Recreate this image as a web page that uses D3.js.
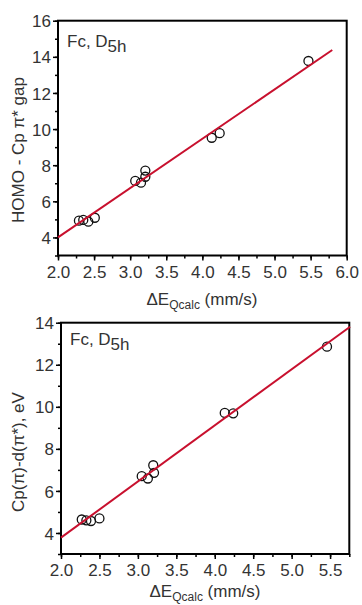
<!DOCTYPE html>
<html lang="en">
  <head>
    <meta charset="UTF-8" />
    <title>Fc D5h correlations</title>
    <style>
      body {
        margin: 0;
        background-color: #fff;
      }
      svg {
        display: block;
        font-family: "Liberation Sans", Arial, sans-serif;
      }
      .tick text {
        fill: #333;
        font-size: 17px;
      }
      .lbl {
        fill: #333;
        font-size: 17px;
      }
    </style>
  </head>
  <body>
    <div class="container"></div>
    <script src="https://d3js.org/d3.v7.min.js"></script>
    <script>
      // top panel: HOMO - Cp pi* gap vs dEQ
      const topX = [2.29, 2.35, 2.42, 2.51, 3.07, 3.15, 3.21, 3.21, 4.13, 4.24, 5.47];
      const topY = [4.93, 4.97, 4.87, 5.09, 7.13, 7.03, 7.36, 7.70, 9.52, 9.77, 13.77];
      const topFit = [[2.0, 4.0], [5.8, 14.38]];
      const topXTicks = [2.0, 2.5, 3.0, 3.5, 4.0, 4.5, 5.0, 5.5, 6.0];
      const topYTicks = [4, 6, 8, 10, 12, 14, 16];

      // bottom panel: Cp(pi)-d(pi*) vs dEQ
      const botX = [2.27, 2.33, 2.39, 2.50, 3.05, 3.13, 3.20, 3.21, 4.13, 4.24, 5.46];
      const botY = [4.64, 4.60, 4.57, 4.69, 6.70, 6.59, 7.22, 6.86, 9.71, 9.69, 12.86];
      const botFit = [[2.0, 3.78], [5.76, 13.81]];
      const botXTicks = [2.0, 2.5, 3.0, 3.5, 4.0, 4.5, 5.0, 5.5];
      const botYTicks = [4, 6, 8, 10, 12, 14];

      const w = 362, h = 605;
      const svg = d3.select(".container").append("svg")
        .attr("width", w)
        .attr("height", h);

      function panel(p) {
        const x = d3.scaleLinear().domain(p.xDom).range([p.left, p.right]);
        const y = d3.scaleLinear().domain(p.yDom).range([p.bottom, p.top]);
        const g = svg.append("g");

        // minor ticks
        const xMinor = d3.range(p.xDom[0], p.xDom[1] + 0.001, 0.25);
        const yMinor = d3.range(p.yDom[0], p.yDom[1] + 0.001, 1);
        g.append("g")
          .attr("transform", "translate(0," + p.bottom + ")")
          .call(d3.axisBottom(x).tickValues(xMinor).tickSize(3).tickFormat(""))
          .call(a => a.select(".domain").remove())
          .selectAll("line").attr("stroke", "#000").attr("stroke-width", 1.5);
        g.append("g")
          .attr("transform", "translate(" + p.left + ",0)")
          .call(d3.axisLeft(y).tickValues(yMinor).tickSize(3).tickFormat(""))
          .call(a => a.select(".domain").remove())
          .selectAll("line").attr("stroke", "#000").attr("stroke-width", 1.5);

        // major ticks
        const xa = g.append("g")
          .attr("transform", "translate(0," + p.bottom + ")")
          .call(d3.axisBottom(x).tickValues(p.xTicks).tickSize(5).tickPadding(5).tickFormat(d3.format(".1f")));
        xa.select(".domain").remove();
        xa.selectAll("line").attr("stroke", "#000").attr("stroke-width", 1.5);

        const ya = g.append("g")
          .attr("transform", "translate(" + p.left + ",0)")
          .call(d3.axisLeft(y).tickValues(p.yTicks).tickSize(5).tickPadding(2).tickFormat(d3.format("d")));
        ya.select(".domain").remove();
        ya.selectAll("line").attr("stroke", "#000").attr("stroke-width", 1.5);
        ya.selectAll("text").attr("dy", "0.36em");

        // frame
        g.append("rect")
          .attr("x", p.left)
          .attr("y", p.top)
          .attr("width", p.right - p.left)
          .attr("height", p.bottom - p.top)
          .attr("fill", "none")
          .attr("stroke", "#000")
          .attr("stroke-width", 2);

        // points
        g.selectAll("circle.pt")
          .data(p.xs.map((v, i) => [v, p.ys[i]]))
          .enter().append("circle")
          .attr("class", "pt")
          .attr("cx", d => x(d[0]))
          .attr("cy", d => y(d[1]))
          .attr("r", 4.5)
          .attr("fill", "none")
          .attr("stroke", "#111")
          .attr("stroke-width", 1.3);

        // fit line
        g.append("path")
          .attr("d", d3.line().x(d => x(d[0])).y(d => y(d[1]))(p.fit))
          .attr("stroke", "#c8102e")
          .attr("stroke-width", 2)
          .attr("fill", "none");

        // annotation
        const ann = g.append("text")
          .attr("class", "lbl")
          .attr("x", p.left + 9)
          .attr("y", p.annY);
        ann.append("tspan").text("Fc, D");
        ann.append("tspan").attr("dy", 5).text("5h");

        // y label
        g.append("text")
          .attr("class", "lbl")
          .attr("transform", "translate(" + p.yLblX + "," + p.yLblY + ") rotate(-90)")
          .attr("text-anchor", "middle")
          .text(p.yLabel);

        // x label
        const xl = g.append("text")
          .attr("class", "lbl")
          .attr("x", p.xLblX)
          .attr("y", p.xLblY)
          .attr("text-anchor", "middle");
        xl.append("tspan").text("\u0394E");
        xl.append("tspan").attr("dy", 4).style("font-size", "12px").text("Qcalc");
        xl.append("tspan").attr("dy", -4).text(" (mm/s)");
      }

      panel({
        xDom: [2, 6], yDom: [3, 16],
        left: 58, right: 346.7, top: 20.7, bottom: 255.5,
        xs: topX, ys: topY, fit: topFit,
        xTicks: topXTicks, yTicks: topYTicks,
        annY: 47, yLabel: "HOMO - Cp \u03c0* gap", yLblX: 24, yLblY: 150,
        xLblX: 202, xLblY: 305
      });

      panel({
        xDom: [2, 5.75], yDom: [3, 14],
        left: 61, right: 349.3, top: 322.7, bottom: 554,
        xs: botX, ys: botY, fit: botFit,
        xTicks: botXTicks, yTicks: botYTicks,
        annY: 345, yLabel: "Cp(\u03c0)-d(\u03c0*), eV", yLblX: 24, yLblY: 452,
        xLblX: 205, xLblY: 597
      });
    </script>
  </body>
</html>
